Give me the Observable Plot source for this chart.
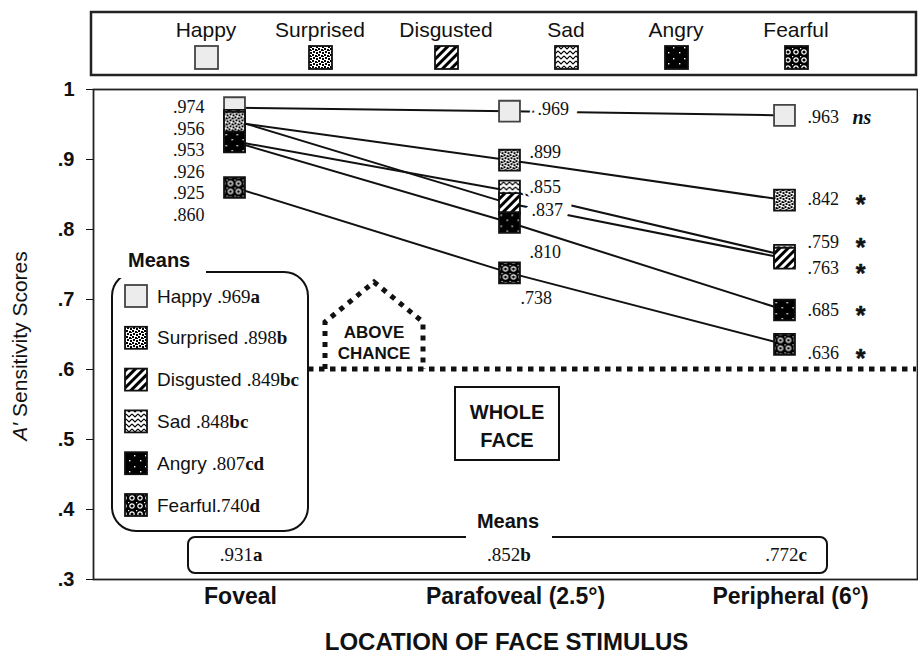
<!DOCTYPE html>
<html><head><meta charset="utf-8">
<script src="https://cdn.jsdelivr.net/npm/d3@7"></script>
<script src="https://cdn.jsdelivr.net/npm/@observablehq/plot@0.6"></script>
<style>
html,body{margin:0;padding:0;background:#fff;}
body{width:918px;height:659px;overflow:hidden;}
svg{display:block}
</style>
</head><body>
<svg width="0" height="0" style="position:absolute">
<defs>
  <pattern id="pSurprised" width="6" height="6" patternUnits="userSpaceOnUse">
    <rect width="6" height="6" fill="#fff"/>
    <rect x="0" y="0" width="2" height="2" fill="#000"/>
    <rect x="3" y="1" width="2" height="2" fill="#000"/>
    <rect x="1" y="3" width="2" height="2" fill="#000"/>
    <rect x="4" y="4" width="2" height="2" fill="#000"/>
    <rect x="5" y="2" width="1" height="1" fill="#000"/>
  </pattern>
  <pattern id="pDisgusted" width="6" height="6" patternUnits="userSpaceOnUse" patternTransform="rotate(45)">
    <rect width="6" height="6" fill="#fff"/>
    <rect width="3" height="6" fill="#000"/>
  </pattern>
  <pattern id="pSad" width="6" height="5" patternUnits="userSpaceOnUse">
    <rect width="6" height="5" fill="#fff"/>
    <path d="M0,1 L3,4 L6,1" stroke="#000" stroke-width="1.1" fill="none"/>
  </pattern>
  <pattern id="pAngry" width="11" height="11" patternUnits="userSpaceOnUse">
    <rect width="11" height="11" fill="#000"/>
    <rect x="2" y="3" width="1.4" height="1.4" fill="#fff"/>
    <rect x="8" y="8" width="1.4" height="1.4" fill="#fff"/>
  </pattern>
  <pattern id="pFearful" width="8" height="8" patternUnits="userSpaceOnUse">
    <rect width="8" height="8" fill="#000"/>
    <circle cx="4" cy="4" r="2.2" fill="none" stroke="#fff" stroke-width="1.2"/>
    <rect x="0" y="0" width="1.2" height="1.2" fill="#fff"/>
  </pattern>
  <pattern id="pHappy" width="4" height="4" patternUnits="userSpaceOnUse">
    <rect width="4" height="4" fill="#ececec"/>
  </pattern>
</defs>
</svg>
<script>
// ---------------- data ----------------
const categories = ["Foveal", "Parafoveal (2.5°)", "Peripheral (6°)"];
const emotions = ["Happy", "Surprised", "Disgusted", "Sad", "Angry", "Fearful"];
const happy     = [0.974, 0.969, 0.963];
const surprised = [0.953, 0.899, 0.842];
const disgusted = [0.956, 0.837, 0.759];
const sad       = [0.926, 0.855, 0.763];
const angry     = [0.925, 0.810, 0.685];
const fearful   = [0.860, 0.738, 0.636];

const fovealLabels = [".974", ".956", ".953", ".926", ".925", ".860"];
const labelSeriesOrder = ["Happy", "Surprised", "Sad", "Disgusted", "Angry", "Fearful"];
const parafovealLabels = [".969", ".899", ".855", ".837", ".810", ".738"];
const peripheralLabels = [".963", ".842", ".759", ".763", ".685", ".636"];
const peripheralSignificance = ["ns", "*", "*", "*", "*", "*"];

const insetNames = ["Happy ", "Surprised ", "Disgusted ", "Sad ", "Angry ", "Fearful"];
const emotionMeans = [".969", ".898", ".849", ".848", ".807", ".740"];
const emotionMeanLetters = ["a", "b", "bc", "bc", "cd", "d"];
const locationMeans = [".931", ".852", ".772"];
const locationMeanLetters = ["a", "b", "c"];

const yTicks = [0.3, 0.4, 0.5, 0.6, 0.7, 0.8, 0.9, 1];
const chanceLevel = 0.6;
const yTitle = ["A′", " Sensitivity Scores"];
const xTitle = "LOCATION OF FACE STIMULUS";

// ---------------- styling / layout ----------------
const valuesByEmotion = {Happy: happy, Surprised: surprised, Disgusted: disgusted, Sad: sad, Angry: angry, Fearful: fearful};
const fillByEmotion = {Happy: "url(#pHappy)", Surprised: "url(#pSurprised)", Disgusted: "url(#pDisgusted)", Sad: "url(#pSad)", Angry: "url(#pAngry)", Fearful: "url(#pFearful)"};
const strokeByEmotion = {Happy: "#444", Surprised: "#111", Disgusted: "#111", Sad: "#111", Angry: "#111", Fearful: "#111"};
const drawOrder = ["Happy", "Sad", "Disgusted", "Surprised", "Angry", "Fearful"];
const SANS = "'Liberation Sans', Arial, sans-serif";
const SERIF = "'Liberation Serif', 'Times New Roman', serif";
const L = {
  legendH: 78,
  fovealDx: -30, fovealStep: 21.5,
  paraDx: [28, 20, 20, 22, 20, 11], paraDy: [-2, -8, -3.5, 7, 30, 25], paraHalo: [18, 0, 16, 18, 0, 0],
  periDx: 23, periDy: [2, -1, -13, 10, 0, 9], sigDx: 76, nsDx: 68
};

const rows = emotions.flatMap(e => valuesByEmotion[e].map((v, i) => ({emotion: e, loc: categories[i], value: v})));

// ---------------- legend (top) ----------------
const legendX = [206, 320, 446, 566, 676, 796];
const leg = d3.select("body").append("svg").attr("width", 918).attr("height", L.legendH);
leg.append("rect").attr("x", 91).attr("y", 12).attr("width", 825).attr("height", 63)
  .attr("fill", "none").attr("stroke", "#222").attr("stroke-width", 2.5);
emotions.forEach((e, i) => {
  leg.append("text").attr("x", legendX[i]).attr("y", 37).attr("text-anchor", "middle")
    .attr("font-family", SANS).attr("font-size", 21).attr("fill", "#111").text(e);
  leg.append("rect").attr("x", legendX[i] - 11).attr("y", 46).attr("width", 23).attr("height", 23)
    .attr("fill", fillByEmotion[e]).attr("stroke", strokeByEmotion[e]).attr("stroke-width", 1.8);
});

// ---------------- marks ----------------
const marks = [];
marks.push(Plot.frame({stroke: "#222", strokeWidth: 1.8}));
marks.push(Plot.line(rows, {x: "loc", y: "value", z: "emotion", stroke: "#111", strokeWidth: 2}));

fovealLabels.forEach((t, i) => {
  marks.push(Plot.text([t], {x: () => categories[0], y: () => happy[0], text: d => d, dx: L.fovealDx, dy: i * L.fovealStep,
    textAnchor: "end", fontFamily: SERIF, fontSize: 18, fontWeight: "normal", fill: "#111"}));
});
labelSeriesOrder.forEach((e, i) => {
  const opts = {x: () => categories[1], y: () => valuesByEmotion[e][1], text: d => d, dx: L.paraDx[i], dy: L.paraDy[i],
    textAnchor: "start", fontFamily: SERIF, fontSize: 18, fontWeight: "normal", fill: "#111"};
  if (L.paraHalo[i]) Object.assign(opts, {stroke: "white", strokeWidth: L.paraHalo[i], paintOrder: "stroke", strokeLinejoin: "round"});
  marks.push(Plot.text([parafovealLabels[i]], opts));
});
labelSeriesOrder.forEach((e, i) => {
  marks.push(Plot.text([peripheralLabels[i]], {x: () => categories[2], y: () => valuesByEmotion[e][2], text: d => d,
    dx: L.periDx, dy: L.periDy[i], textAnchor: "start", fontFamily: SERIF, fontSize: 18, fontWeight: "normal", fill: "#111"}));
  const s = peripheralSignificance[i];
  if (s === "ns") {
    marks.push(Plot.text([s], {x: () => categories[2], y: () => valuesByEmotion[e][2], text: d => d,
      dx: L.nsDx, dy: L.periDy[i], textAnchor: "start", fontFamily: SERIF, fontSize: 20, fontWeight: "bold", fontStyle: "italic", fill: "#111"}));
  } else {
    marks.push(Plot.text([s], {x: () => categories[2], y: () => valuesByEmotion[e][2], text: d => d,
      dx: L.sigDx, dy: L.periDy[i] + 6, textAnchor: "middle", fontFamily: SANS, fontSize: 25, fontWeight: "bold",
      fill: "#111", stroke: "#111", strokeWidth: 0.5}));
  }
});
drawOrder.forEach(e => {
  marks.push(Plot.dot(rows.filter(r => r.emotion === e), {x: "loc", y: "value", symbol: "square", r: 11.8,
    fill: fillByEmotion[e], stroke: strokeByEmotion[e], strokeWidth: 1.8}));
});
marks.push(Plot.text(categories, {x: d => d, frameAnchor: "bottom", dy: 24, dx: 6, text: d => d,
  fontFamily: SANS, fontSize: 23, fontWeight: "bold", fill: "#111"}));
marks.push(Plot.text([xTitle], {x: () => categories[1], frameAnchor: "bottom", dy: 70, dx: -3, text: d => d,
  fontFamily: SANS, fontSize: 24, fontWeight: "bold", fill: "#111"}));

const plot = Plot.plot({
  width: 918, height: 659 - L.legendH,
  marginLeft: 93, marginRight: 1, marginTop: 11, marginBottom: 80,
  style: {fontFamily: SANS, fontSize: "20px", fontWeight: "bold", background: "white", color: "#111", overflow: "visible"},
  x: {type: "point", domain: categories, range: [233, 784], padding: 0, axis: null},
  y: {domain: [0.3, 1], ticks: yTicks, tickFormat: d => d === 1 ? "1" : d3.format(".1f")(d).replace(/^0/, ""),
      tickSize: 7, tickPadding: 12, label: null},
  marks
});
document.body.appendChild(plot);

// ---------------- annotations ----------------
const svg = d3.select(plot);
const ys = plot.scale("y");
const xs = plot.scale("x");
const g = svg.append("g").attr("text-anchor", "start");
const yChance = ys.apply(chanceLevel);

const yt = g.append("text").attr("transform", "translate(27,268) rotate(-90)").attr("text-anchor", "middle")
  .attr("font-family", SANS).attr("font-size", 21).attr("font-weight", "normal").attr("fill", "#111");
yt.append("tspan").attr("font-style", "italic").text(yTitle[0]);
yt.append("tspan").text(yTitle[1]);

g.append("line").attr("x1", 308).attr("x2", 916).attr("y1", yChance).attr("y2", yChance)
  .attr("stroke", "#111").attr("stroke-width", 5).attr("stroke-dasharray", "5.5 5.5");

g.append("path").attr("d", `M325,${yChance} L325,244 L374,204 L423,244 L423,${yChance}`)
  .attr("fill", "none").attr("stroke", "#111").attr("stroke-width", 5).attr("stroke-dasharray", "5 6");
[["ABOVE", 254], ["CHANCE", 275]].forEach(([t, y]) => {
  g.append("text").attr("x", 374).attr("y", y).attr("dy", "0.35em").attr("text-anchor", "middle")
    .attr("font-family", SANS).attr("font-size", 17).attr("font-weight", "bold").attr("fill", "#111").text(t);
});

g.append("rect").attr("x", 455).attr("y", 309).attr("width", 104).attr("height", 73)
  .attr("fill", "white").attr("stroke", "#111").attr("stroke-width", 2);
[["WHOLE", 334], ["FACE", 362]].forEach(([t, y]) => {
  g.append("text").attr("x", 507).attr("y", y).attr("dy", "0.35em").attr("text-anchor", "middle")
    .attr("font-family", SANS).attr("font-size", 20).attr("font-weight", "bold").attr("fill", "#111").text(t);
});

g.append("rect").attr("x", 112).attr("y", 194).attr("width", 196).attr("height", 259).attr("rx", 24)
  .attr("fill", "white").attr("stroke", "#111").attr("stroke-width", 2);
g.append("rect").attr("x", 118).attr("y", 186).attr("width", 88).attr("height", 14).attr("fill", "white");
g.append("text").attr("x", 128).attr("y", 182).attr("dy", "0.35em").attr("text-anchor", "start").attr("font-family", SANS)
  .attr("font-size", 20).attr("font-weight", "bold").attr("fill", "#111").text("Means");
emotions.forEach((e, i) => {
  const cy = 218 + i * 41.8;
  g.append("rect").attr("x", 125).attr("y", cy - 11).attr("width", 22).attr("height", 22)
    .attr("fill", fillByEmotion[e]).attr("stroke", strokeByEmotion[e]).attr("stroke-width", 1.8);
  const t = g.append("text").attr("x", 157).attr("y", cy).attr("dy", "0.35em").attr("text-anchor", "start")
    .attr("fill", "#111").attr("font-size", 19);
  t.append("tspan").attr("font-family", SANS).attr("font-weight", "normal").text(insetNames[i]);
  t.append("tspan").attr("font-family", SERIF).attr("font-weight", "normal").text(emotionMeans[i]);
  t.append("tspan").attr("font-family", SERIF).attr("font-weight", "bold").text(emotionMeanLetters[i]);
});

g.append("rect").attr("x", 188).attr("y", 459).attr("width", 639).attr("height", 36).attr("rx", 7)
  .attr("fill", "white").attr("stroke", "#111").attr("stroke-width", 2);
g.append("rect").attr("x", 466).attr("y", 452).attr("width", 86).attr("height", 12).attr("fill", "white");
g.append("text").attr("x", 508).attr("y", 443).attr("dy", "0.35em").attr("text-anchor", "middle")
  .attr("font-family", SANS).attr("font-size", 20).attr("font-weight", "bold").attr("fill", "#111").text("Means");
const meanDx = [7, 0, 2];
categories.forEach((c, i) => {
  const t = g.append("text").attr("x", xs.apply(c) + meanDx[i]).attr("y", 476).attr("dy", "0.35em")
    .attr("text-anchor", "middle").attr("font-family", SERIF).attr("font-size", 19).attr("fill", "#111");
  t.append("tspan").attr("font-weight", "normal").text(locationMeans[i]);
  t.append("tspan").attr("font-weight", "bold").text(locationMeanLetters[i]);
});
</script>
</body></html>
